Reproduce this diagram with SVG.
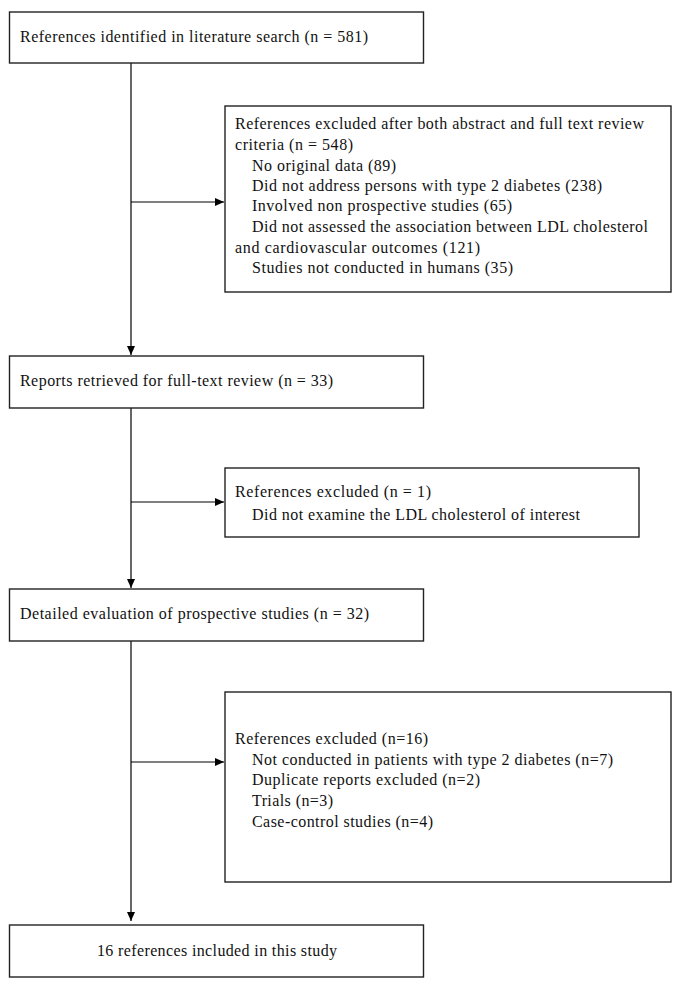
<svg xmlns="http://www.w3.org/2000/svg" width="682" height="994" viewBox="0 0 682 994">
<style>
.box{fill:#fff;stroke:#222;stroke-width:1.4}
.t{font-family:"Liberation Serif","Times New Roman",serif;font-size:16px;fill:#111}
.c{stroke:#000;stroke-width:1.2;fill:none}
</style>
<defs>
<marker id="ah" markerWidth="10" markerHeight="10" refX="9" refY="5" orient="auto" markerUnits="userSpaceOnUse">
<path d="M0,1 L9,5 L0,9 Z" fill="#000"/>
</marker>
</defs>
<rect width="682" height="994" fill="#fff"/>
<g id="connectors">
<path class="c" d="M131,63 V355" marker-end="url(#ah)"/>
<path class="c" d="M131,202 H224" marker-end="url(#ah)"/>
<path class="c" d="M131,408 V588" marker-end="url(#ah)"/>
<path class="c" d="M131,502 H224" marker-end="url(#ah)"/>
<path class="c" d="M131,641 V921" marker-end="url(#ah)"/>
<path class="c" d="M131,762 H224" marker-end="url(#ah)"/>
</g>
<g id="n1">
<rect class="box" x="9.5" y="12" width="414" height="51"/>
<text class="t" x="20" y="42" textLength="348" lengthAdjust="spacing">References identified in literature search (n = 581)</text>
</g>
<g id="n2">
<rect class="box" x="225" y="106" width="446" height="186"/>
<text class="t" x="235" y="129" textLength="409" lengthAdjust="spacing">References excluded after both abstract and full text review</text>
<text class="t" x="235" y="150" textLength="118" lengthAdjust="spacing">criteria (n = 548)</text>
<text class="t" x="252" y="171" textLength="144" lengthAdjust="spacing">No original data (89)</text>
<text class="t" x="252" y="191" textLength="350" lengthAdjust="spacing">Did not address persons with type 2 diabetes (238)</text>
<text class="t" x="252" y="211" textLength="260" lengthAdjust="spacing">Involved non prospective studies (65)</text>
<text class="t" x="252" y="232" textLength="396" lengthAdjust="spacing">Did not assessed the association between LDL cholesterol</text>
<text class="t" x="235" y="253" textLength="245" lengthAdjust="spacing">and cardiovascular outcomes (121)</text>
<text class="t" x="252" y="273" textLength="261" lengthAdjust="spacing">Studies not conducted in humans (35)</text>
</g>
<g id="n3">
<rect class="box" x="9.5" y="356" width="414" height="52"/>
<text class="t" x="20" y="386" textLength="313" lengthAdjust="spacing">Reports retrieved for full-text review (n = 33)</text>
</g>
<g id="n4">
<rect class="box" x="225" y="468" width="414" height="69"/>
<text class="t" x="235" y="497" textLength="196" lengthAdjust="spacing">References excluded (n = 1)</text>
<text class="t" x="252" y="520" textLength="328" lengthAdjust="spacing">Did not examine the LDL cholesterol of interest</text>
</g>
<g id="n5">
<rect class="box" x="9.5" y="589" width="414" height="52"/>
<text class="t" x="20" y="619" textLength="349" lengthAdjust="spacing">Detailed evaluation of prospective studies (n = 32)</text>
</g>
<g id="n6">
<rect class="box" x="225" y="692" width="446" height="190"/>
<text class="t" x="235" y="744" textLength="193" lengthAdjust="spacing">References excluded (n=16)</text>
<text class="t" x="252" y="765" textLength="361" lengthAdjust="spacing">Not conducted in patients with type 2 diabetes (n=7)</text>
<text class="t" x="252" y="785" textLength="228" lengthAdjust="spacing">Duplicate reports excluded (n=2)</text>
<text class="t" x="252" y="806" textLength="81" lengthAdjust="spacing">Trials (n=3)</text>
<text class="t" x="252" y="827" textLength="181" lengthAdjust="spacing">Case-control studies (n=4)</text>
</g>
<g id="n7">
<rect class="box" x="9.5" y="925" width="414" height="52"/>
<text class="t" x="97" y="956" textLength="240" lengthAdjust="spacing">16 references included in this study</text>
</g>
</svg>
